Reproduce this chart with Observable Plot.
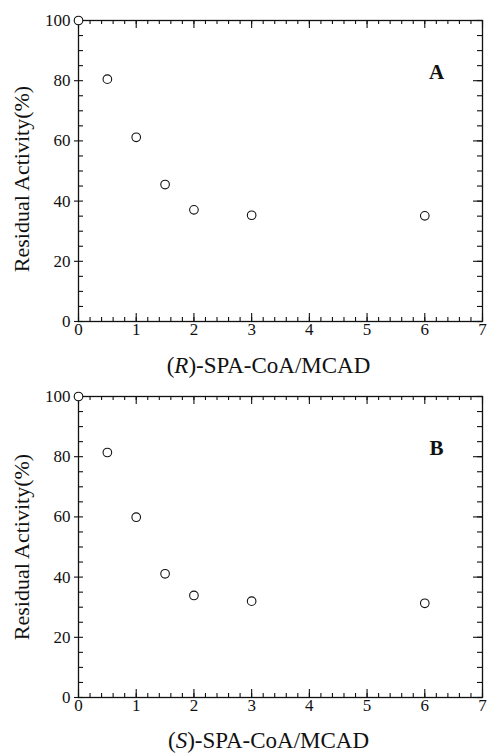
<!DOCTYPE html>
<html><head><meta charset="utf-8">
<script src="https://cdn.jsdelivr.net/npm/d3@7"></script>
<script src="https://cdn.jsdelivr.net/npm/@observablehq/plot@0.6"></script>
<style>body{margin:0;background:#fff} svg{display:block} svg text{font-family:"Liberation Serif","Times New Roman",serif}</style>
</head><body><div id="c"></div>
<script>
// Data
const ratios = [0, 0.5, 1, 1.5, 2, 3, 6];
const activityR = [100, 80.5, 61.2, 45.5, 37.1, 35.3, 35.1];
const activityS = [100, 81.4, 59.9, 41.1, 33.9, 32.0, 31.3];
const xTickLabels = [0, 1, 2, 3, 4, 5, 6, 7];
const yTickLabels = [0, 20, 40, 60, 80, 100];
const yLabel = "Residual Activity(%)";
const xLabelR = "(R)-SPA-CoA/MCAD";
const xLabelS = "(S)-SPA-CoA/MCAD";

const xMinor = d3.range(0, 7.0001, 0.2).map(v => +v.toFixed(1));
const yMinor = d3.range(0, 100.001, 5);
const FONT = "Liberation Serif";
const FW = 404, FH = 301; // frame size in px
const XMAX = 7, YMAX = 100;
const px2x = p => p * XMAX / FW;   // tick length in px -> x units
const px2y = p => p * YMAX / FH;   // tick length in px -> y units

function panel(values, xlabel, italicLetter, letter, labelDy, yLabelDy, height) {
  const data = ratios.map((r, i) => ({ratio: r, activity: values[i]}));
  const tk = {stroke: "#111", strokeWidth: 1.1};
  const svg = Plot.plot({
    width: 488, height,
    marginTop: 20, marginLeft: 78, marginRight: 6, marginBottom: height - 20 - FH,
    style: {fontFamily: FONT, fontSize: "17px", color: "#111", background: "white", overflow: "visible"},
    x: {domain: [0, XMAX]},
    y: {domain: [0, YMAX]},
    marks: [
      Plot.axisX(xTickLabels, {tickSize: 0, tickPadding: 1, label: null, fontSize: 17, fontFamily: FONT}),
      Plot.axisY(yTickLabels, {tickSize: 4, tickPadding: 4, label: null, fontSize: 17, fontFamily: FONT, strokeWidth: 1.1}),
      // inward ticks: bottom, top, left, right
      Plot.ruleX(xMinor, {x: d => d, y1: 0, y2: px2y(4), ...tk}),
      Plot.ruleX(xTickLabels, {x: d => d, y1: 0, y2: px2y(8), ...tk}),
      Plot.ruleX(xMinor, {x: d => d, y1: YMAX, y2: YMAX - px2y(4), ...tk}),
      Plot.ruleX(xTickLabels, {x: d => d, y1: YMAX, y2: YMAX - px2y(8), ...tk}),
      Plot.ruleY(yMinor, {y: d => d, x1: 0, x2: px2x(5), ...tk}),
      Plot.ruleY(yMinor, {y: d => d, x1: XMAX, x2: XMAX - px2x(5), ...tk}),
      Plot.ruleY(yTickLabels, {y: d => d, x1: XMAX, x2: XMAX - px2x(9), ...tk}),
      Plot.frame({stroke: "#111", strokeWidth: 1.3}),
      Plot.dot(data, {x: "ratio", y: "activity", r: 4.3, stroke: "#111", fill: "white", strokeWidth: 1.1}),
      Plot.text([xlabel], {frameAnchor: "bottom", textAnchor: "middle", lineAnchor: "middle", dx: -12, dy: labelDy, fontSize: 23, fontFamily: FONT, fill: "#111", text: d => d}),
      Plot.text([yLabel], {frameAnchor: "left", textAnchor: "middle", lineAnchor: "middle", dx: -57, dy: yLabelDy, rotate: -90, fontSize: 22, fontFamily: FONT, fill: "#111", text: d => d}),
      Plot.text([letter], {frameAnchor: "top-right", textAnchor: "middle", lineAnchor: "middle", dx: -46, dy: 52, fontSize: 21, fontWeight: "bold", fontFamily: FONT, fill: "#111", text: d => d})
    ]
  });
  // italicise the stereodescriptor letter
  d3.select(svg).selectAll("text").filter(function() { return this.textContent === xlabel; })
    .each(function() {
      const t = d3.select(this);
      t.text(null);
      t.append("tspan").text("(");
      t.append("tspan").attr("font-style", "italic").text(italicLetter);
      t.append("tspan").text(xlabel.slice(2));
    });
  return svg;
}

const c = document.getElementById("c");
c.appendChild(panel(activityR, xLabelR, "R", "A", 44, 8, 376));
c.appendChild(panel(activityS, xLabelS, "S", "B", 43, 0, 377));
</script>
</body></html>
